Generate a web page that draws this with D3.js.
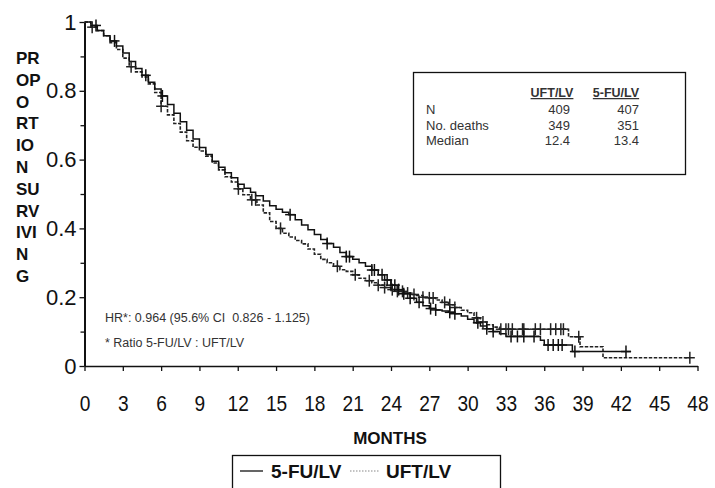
<!DOCTYPE html>
<html><head><meta charset="utf-8">
<script src="https://cdn.jsdelivr.net/npm/d3@7"></script>
<style>
body{margin:0;background:#fff;}
svg{display:block;font-family:"Liberation Sans",Arial,sans-serif;}
</style></head>
<body>
<svg id="chart" width="715" height="488"></svg>
<script>
// ---- data ----
const xTicks = [0,3,6,9,12,15,18,21,24,27,30,33,36,39,42,45,48];
const yTicks = [0,0.2,0.4,0.6,0.8,1];
const yMinorTicks = [0.1,0.3,0.5,0.7,0.9];
const yTitleLines = ["PR","OP","O","RT","IO","N","SU","RV","IVI","N","G"];

const fuMonths = [0,0.5,1,1.5,2,2.5,3,3.5,4,4.5,5,5.5,6,6.5,7,7.5,8,8.5,9,9.5,10,10.5,11,11.5,12,12.5,13,13.4,14,14.5,15,15.5,16,16.5,17,17.5,18,18.5,19,19.5,20,20.5,21,21.5,22,22.5,23,23.5,24,24.5,25,25.5,26,26.5,27,27.5,28,28.5,29,29.5,30,30.5,31,31.5,32,32.5,33,35.7,36,38.2,42.8];
const fuSurv   = [1,0.99,0.975,0.96,0.945,0.93,0.91,0.885,0.865,0.845,0.825,0.805,0.785,0.76,0.735,0.71,0.685,0.66,0.635,0.615,0.595,0.578,0.562,0.547,0.528,0.517,0.505,0.495,0.48,0.466,0.456,0.447,0.44,0.425,0.41,0.396,0.382,0.368,0.356,0.345,0.33,0.318,0.31,0.3,0.29,0.279,0.265,0.25,0.235,0.222,0.21,0.197,0.185,0.175,0.167,0.163,0.16,0.156,0.152,0.145,0.136,0.126,0.116,0.108,0.1,0.094,0.086,0.075,0.061,0.042,0.042];
const fuCensor = [0.9,2.35,4.8,6.1,16.1,19.0,20.5,20.75,22.5,22.7,23.3,23.7,24.0,24.3,24.6,25.0,25.5,26.2,27.1,27.5,28.6,29.0,30.8,31.5,32.0,33.4,33.9,34.4,35.2,36.3,36.7,37.1,37.4,38.4,42.4];

const uftMonths = [0,0.5,1,1.5,2,2.5,3,3.5,4,4.5,5,5.5,6,6.5,7,7.5,8,8.5,9,9.5,10,10.5,11,11.5,12,12.4,13,13.5,14,14.5,15,15.5,16,16.5,17,17.5,18,18.5,19,19.5,20,20.5,21,21.5,22,22.5,23,23.5,24,24.5,25,25.5,26,26.5,27,27.5,28,28.5,29,29.5,30,30.5,31,31.5,32,32.5,37.9,38.8,40.6,47.4];
const uftSurv   = [1,0.985,0.975,0.96,0.94,0.92,0.895,0.87,0.855,0.84,0.82,0.795,0.755,0.73,0.705,0.68,0.655,0.636,0.625,0.61,0.59,0.57,0.55,0.535,0.515,0.498,0.483,0.468,0.445,0.42,0.4,0.386,0.375,0.365,0.355,0.34,0.325,0.31,0.3,0.29,0.28,0.275,0.265,0.255,0.248,0.242,0.235,0.228,0.222,0.217,0.212,0.208,0.205,0.2,0.198,0.192,0.185,0.178,0.17,0.162,0.155,0.14,0.128,0.12,0.113,0.107,0.085,0.056,0.024,0.024];
const uftCensor = [0.6,3.65,6.0,12.05,13.1,13.4,15.35,19.8,21.2,22.3,23.0,23.5,24.1,24.5,24.9,25.3,25.8,26.5,27.0,27.3,28.2,28.6,29.0,30.7,31.2,32.6,33.0,33.2,33.5,34.3,34.4,35.3,35.7,36.5,36.9,37.3,37.5,38.7,47.4];

const tableCols = ["UFT/LV","5-FU/LV"];
const tableRows = ["N","No. deaths","Median"];
const tableUFT = ["409","349","12.4"];
const tableFU  = ["407","351","13.4"];
const seriesNames = ["5-FU/LV","UFT/LV"];

// ---- drawing ----
const svg = d3.select("#chart");
const x = d3.scaleLinear().domain([0,48]).range([84.5,697.5]);
const y = d3.scaleLinear().domain([0,1]).range([366,22]);
const ink = "#111";

// axes
const xAxis = svg.append("g").attr("transform","translate(0,366)")
  .call(d3.axisBottom(x).tickValues(xTicks).tickSize(5).tickSizeOuter(0).tickFormat(d3.format("d")));
xAxis.select(".domain").attr("stroke",ink).attr("stroke-width",1.6);
xAxis.selectAll(".tick line").attr("stroke",ink).attr("stroke-width",1.3);
xAxis.selectAll(".tick text").attr("y",29).attr("dy","0.71em")
  .attr("font-size",22).attr("fill",ink).attr("transform","scale(0.87,1)")
  .attr("font-family","'Liberation Sans',Arial,sans-serif");

const yAxis = svg.append("g").attr("transform","translate(84.5,0)")
  .call(d3.axisLeft(y).tickValues(yTicks).tickSize(5).tickSizeOuter(0).tickPadding(3)
    .tickFormat(d => d===0||d===1 ? String(d) : d.toFixed(1)));
yAxis.select(".domain").attr("stroke",ink).attr("stroke-width",2);
yAxis.selectAll(".tick line").attr("stroke",ink).attr("stroke-width",1.3);
yAxis.selectAll(".tick text").attr("font-size",22).attr("fill",ink)
  .attr("font-family","'Liberation Sans',Arial,sans-serif");
const yMinor = svg.append("g").attr("transform","translate(84.5,0)")
  .call(d3.axisLeft(y).tickValues(yMinorTicks).tickSize(4).tickFormat(""));
yMinor.select(".domain").remove();
yMinor.selectAll(".tick line").attr("stroke",ink).attr("stroke-width",1.3);

// y title stacked
svg.append("g").selectAll("text").data(yTitleLines).join("text")
  .attr("x",16).attr("y",(d,i)=>64+i*21.8)
  .attr("font-size",17).attr("font-weight","bold").attr("fill",ink).text(d=>d);

// x title
svg.append("text").attr("x",390).attr("y",444).attr("text-anchor","middle")
  .attr("font-size",17).attr("font-weight","bold").attr("fill",ink).text("MONTHS");

// curves
const line = d3.line().x(d=>x(d[0])).y(d=>y(d[1])).curve(d3.curveStepAfter);
const fuData = fuMonths.map((m,i)=>[m,fuSurv[i]]);
const uftData = uftMonths.map((m,i)=>[m,uftSurv[i]]);

svg.append("path").datum(uftData).attr("d",line).attr("fill","none")
  .attr("stroke","#222").attr("stroke-width",1.6).attr("stroke-dasharray","3.5,1.5");
svg.append("path").datum(fuData).attr("d",line).attr("fill","none")
  .attr("stroke",ink).attr("stroke-width",1.5);

function stepVal(months, surv, t){
  let v = surv[0];
  for(let i=0;i<months.length;i++){ if(months[i]<=t) v=surv[i]; }
  return v;
}
function censor(times, months, surv, color){
  const g = svg.append("g").attr("stroke",color).attr("stroke-width",1.5);
  times.forEach(t=>{
    const cx = x(t), cy = y(stepVal(months,surv,t));
    g.append("line").attr("x1",cx).attr("x2",cx).attr("y1",cy-6).attr("y2",cy+6);
    g.append("line").attr("x1",cx-5).attr("x2",cx+5).attr("y1",cy).attr("y2",cy);
  });
}
censor(uftCensor, uftMonths, uftSurv, "#222");
censor(fuCensor, fuMonths, fuSurv, ink);

// info table box
svg.append("rect").attr("x",413.5).attr("y",72.5).attr("width",272).attr("height",102)
  .attr("fill","none").attr("stroke",ink).attr("stroke-width",1.3);
const colX = [552,616];
const hdr = svg.append("g");
tableCols.forEach((c,i)=>{
  hdr.append("text").attr("x",colX[i]).attr("y",97).attr("text-anchor","middle")
    .attr("font-size",12.5).attr("font-weight","bold").attr("fill","#333")
    .attr("text-decoration","underline").text(c);
});
tableRows.forEach((r,i)=>{
  const yy = 114 + i*15.5;
  svg.append("text").attr("x",426).attr("y",yy).attr("font-size",13).attr("fill","#333").text(r);
  svg.append("text").attr("x",570).attr("y",yy).attr("text-anchor","end").attr("font-size",13).attr("fill","#333").text(tableUFT[i]);
  svg.append("text").attr("x",639).attr("y",yy).attr("text-anchor","end").attr("font-size",13).attr("fill","#333").text(tableFU[i]);
});

// HR annotation
svg.append("text").attr("x",105).attr("y",322).attr("font-size",12.5).attr("fill","#333")
  .style("white-space","pre").text("HR*: 0.964 (95.6% CI  0.826 - 1.125)");
svg.append("text").attr("x",105).attr("y",347).attr("font-size",12.5).attr("fill","#333")
  .text("* Ratio 5-FU/LV : UFT/LV");

// legend
const lg = svg.append("g");
lg.append("rect").attr("x",232.5).attr("y",455.5).attr("width",268).attr("height",40)
  .attr("fill","none").attr("stroke",ink).attr("stroke-width",1.3);
lg.append("line").attr("x1",240).attr("x2",263).attr("y1",471).attr("y2",471)
  .attr("stroke",ink).attr("stroke-width",1.3);
lg.append("text").attr("x",271).attr("y",478).attr("font-size",19).attr("font-weight","bold").attr("fill",ink).text(seriesNames[0]);
lg.append("line").attr("x1",350).attr("x2",380).attr("y1",471).attr("y2",471)
  .attr("stroke","#888").attr("stroke-width",1.2).attr("stroke-dasharray","1.5,1.5");
lg.append("text").attr("x",386).attr("y",478).attr("font-size",19).attr("font-weight","bold").attr("fill",ink).text(seriesNames[1]);
</script>
</body></html>
